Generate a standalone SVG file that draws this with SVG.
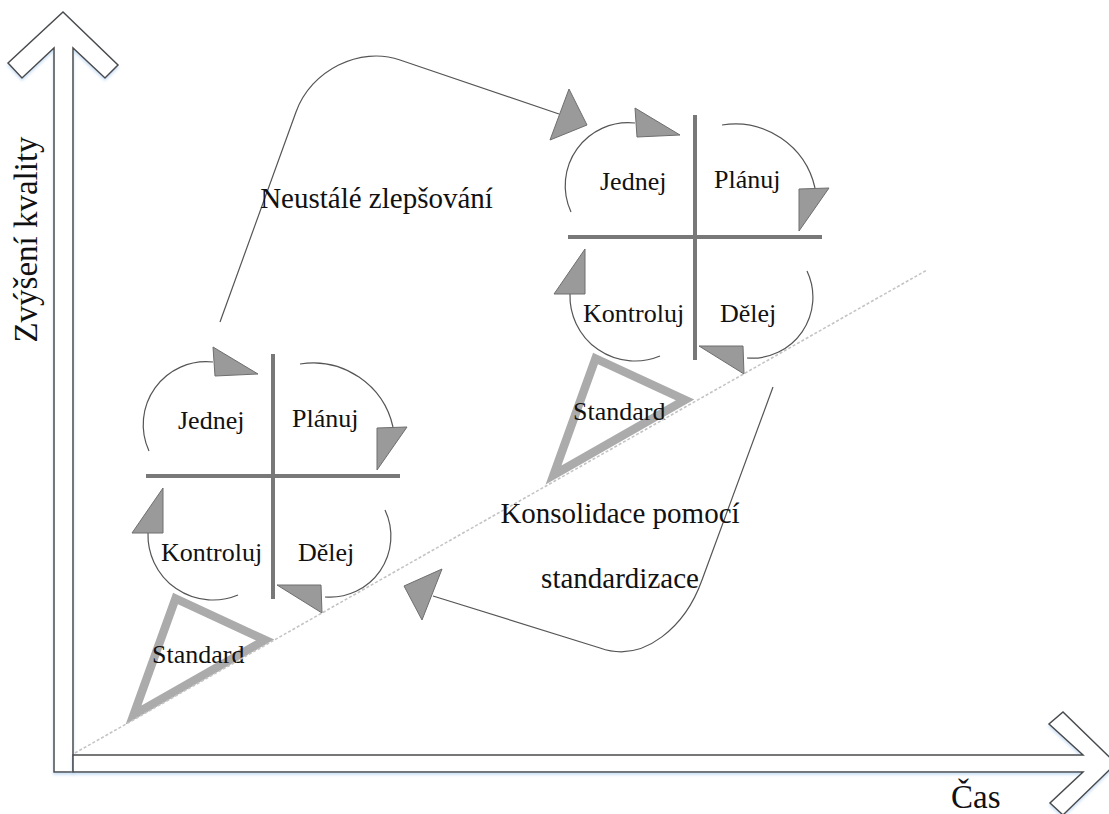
<svg xmlns="http://www.w3.org/2000/svg" width="1109" height="814" viewBox="0 0 1109 814">
  <defs>
    <filter id="axisGlow" x="-10%" y="-10%" width="120%" height="120%">
      <feDropShadow dx="0" dy="2" stdDeviation="1.5" flood-color="#9cc3ec" flood-opacity="0.55"/>
    </filter>
    <style>
      .axis { fill: #ffffff; stroke: #4a4a4a; stroke-width: 1.5; stroke-linejoin: miter; }
      .bar { stroke: #787878; stroke-width: 4; fill: none; }
      .arc { stroke: #555555; stroke-width: 1.2; fill: none; }
      .head { fill: #9a9a9a; stroke: #6e6e6e; stroke-width: 1; stroke-linejoin: miter; }
      .std { fill: none; stroke: #ababab; stroke-width: 8.5; stroke-linejoin: miter; stroke-miterlimit: 10; }
      .trend { stroke: #c4c4c4; stroke-width: 1.6; stroke-dasharray: 3 2; fill: none; }
      .flow { stroke: #555555; stroke-width: 1.2; fill: none; }
      text { fill: #111111; font-family: Liberation Serif, Times New Roman, Tinos, Noto Serif, DejaVu Serif, FreeSerif, serif; }
      .q { font-size: 26px; }
      .big { font-size: 29px; }
      .ax { font-size: 33px; }
    </style>
  </defs>

  <rect width="1109" height="814" fill="#ffffff"/>

  <!-- axes: block arrows with chevron heads -->
  <g id="axis-y" filter="url(#axisGlow)">
    <polygon class="axis" points="63,12 118,65 105,78 73,48 73,772 54,772 54,48 22,78 8,63"/>
  </g>
  <g id="axis-x" filter="url(#axisGlow)">
    <polygon class="axis" points="73,755 1083,755 1049,724 1063,712 1116,763.5 1063,815 1050,803 1083,772 73,772"/>
  </g>
  <text class="ax" transform="translate(37,239.5) rotate(-90)" text-anchor="middle">Zvýšení kvality</text>
  <text class="ax" x="951" y="808">Čas</text>

  <!-- standard wedges -->
  <g id="standard-1">
    <polygon class="std" points="175.5,598.5 265,640 133.5,715"/>
    <text class="q" x="152" y="663">Standard</text>
  </g>
  <g id="standard-2">
    <polygon class="std" points="595.5,358.5 685,400 553.5,475"/>
    <text class="q" x="573" y="420">Standard</text>
  </g>

  <!-- dotted trend line -->
  <line class="trend" x1="75" y1="753" x2="927" y2="270"/>

  <!-- PDCA cycle, lower -->
  <g id="cycle-1">
    <line class="bar" x1="273" y1="354" x2="273" y2="599"/>
    <line class="bar" x1="146" y1="476" x2="400" y2="476"/>
    <path class="arc" d="M149,451 A63,63 0 0 1 213,362"/>
    <path class="arc" d="M300,364 A82,82 0 0 1 393,427"/>
    <path class="arc" d="M385,510 A61,61 0 0 1 325,597"/>
    <path class="arc" d="M238,595 A65,65 0 0 1 148,533"/>
    <polygon class="head" points="213,347 258,374 215,376"/>
    <polygon class="head" points="377,428 407,427 377,470"/>
    <polygon class="head" points="277,585 321,585 322,613"/>
    <polygon class="head" points="163,488 163,533 132,533"/>
    <text class="q" x="178" y="429">Jednej</text>
    <text class="q" x="292" y="427">Plánuj</text>
    <text class="q" x="161" y="561">Kontroluj</text>
    <text class="q" x="298" y="561">Dělej</text>
  </g>

  <!-- PDCA cycle, upper -->
  <g id="cycle-2" transform="translate(422,-239)">
    <line class="bar" x1="273" y1="354" x2="273" y2="599"/>
    <line class="bar" x1="146" y1="476" x2="400" y2="476"/>
    <path class="arc" d="M149,451 A63,63 0 0 1 213,362"/>
    <path class="arc" d="M300,364 A82,82 0 0 1 393,427"/>
    <path class="arc" d="M385,510 A61,61 0 0 1 325,597"/>
    <path class="arc" d="M238,595 A65,65 0 0 1 148,533"/>
    <polygon class="head" points="213,347 258,374 215,376"/>
    <polygon class="head" points="377,428 407,427 377,470"/>
    <polygon class="head" points="277,585 321,585 322,613"/>
    <polygon class="head" points="163,488 163,533 132,533"/>
    <text class="q" x="178" y="429">Jednej</text>
    <text class="q" x="292" y="427">Plánuj</text>
    <text class="q" x="161" y="561">Kontroluj</text>
    <text class="q" x="298" y="561">Dělej</text>
  </g>

  <!-- connectors between the cycles -->
  <g id="connectors">
    <path class="flow" d="M220,322 L296,112 C311,70 360,46 400,60 L559,114"/>
    <polygon class="head" points="569,89 587,125 550,140"/>
    <path class="flow" d="M773,387 L702,580 C686,625 645,664 600,648 L433,596"/>
    <polygon class="head" points="442,569 422,620 404,586"/>
  </g>
  <text class="big" x="376.5" y="208" text-anchor="middle">Neustálé zlepšování</text>
  <text class="big" x="620" y="523" text-anchor="middle">Konsolidace pomocí</text>
  <text class="big" x="620" y="588" text-anchor="middle">standardizace</text>
</svg>
